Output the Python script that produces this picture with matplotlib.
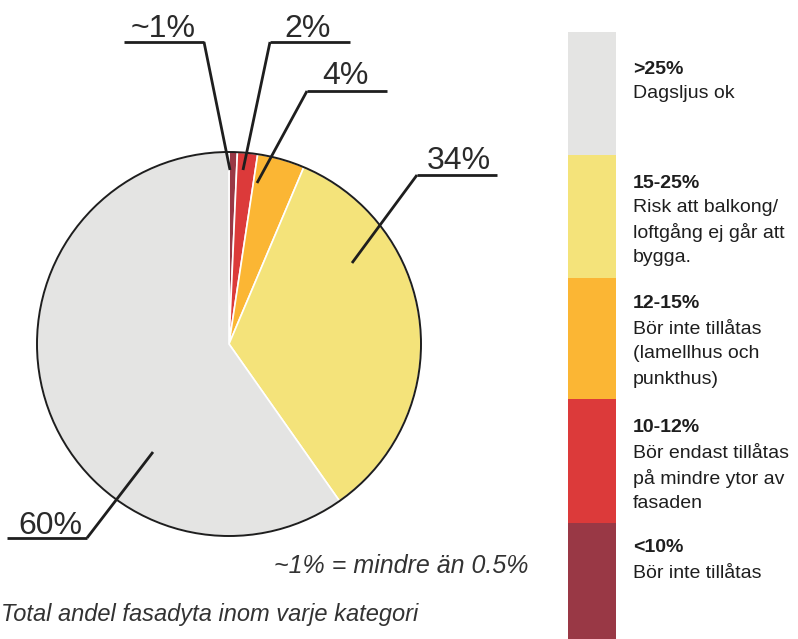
import matplotlib
matplotlib.use("Agg")
import matplotlib.pyplot as plt
from matplotlib.patches import Circle, Rectangle

plt.rcParams['font.family'] = ['Liberation Sans', 'DejaVu Sans']

W, H = 798, 639

# pie data, clockwise from 12 o'clock
shares = [0.7, 1.7, 4, 34, 60]
share_labels = ['~1%', '2%', '4%', '34%', '60%']
colors = ['#993845', '#dc3a3a', '#fbb634', '#f4e37a', '#e4e4e3']

# legend categories, top to bottom
leg_colors = ['#e4e4e3', '#f4e37a', '#fbb634', '#dc3a3a', '#993845']
leg_heads = ['>25%', '15-25%', '12-15%', '10-12%', '<10%']
leg_texts = [
    ['Dagsljus ok'],
    ['Risk att balkong/', 'loftgång ej går att', 'bygga.'],
    ['Bör inte tillåtas', '(lamellhus och', 'punkthus)'],
    ['Bör endast tillåtas', 'på mindre ytor av', 'fasaden'],
    ['Bör inte tillåtas'],
]

note = '~1% = mindre än 0.5%'
caption = 'Total andel fasadyta inom varje kategori'

fig = plt.figure(figsize=(W / 100, H / 100), dpi=100)
ax = fig.add_axes([0, 0, 1, 1])

def Y(y):
    # pixel row -> data y
    return H - y

cx, cy, r = 229, 344, 192
ax.pie(shares, colors=colors, startangle=90, counterclock=False,
       center=(cx, Y(cy)), radius=r,
       wedgeprops=dict(edgecolor='white', linewidth=1.2))
ax.add_patch(Circle((cx, Y(cy)), r, fill=False, ec='#1e1e1e', lw=1.4, zorder=5))

# label callouts: (underline x0, x1, y), leader start, leader end, text x, baseline
callouts = [
    ((124, 204, 42), (204, 42), (230, 170), 163, 37),
    ((270, 350, 42), (270, 42), (243, 170), 308, 37),
    ((307, 387, 91), (307, 91), (257, 183), 345, 84),
    ((417, 497, 175), (417, 175), (352, 263), 459, 169),
    ((7, 87, 538), (87, 538), (153, 452), 50, 534),
]
for lab, (ul, p0, p1, tx, ty) in zip(share_labels, callouts):
    ax.plot([ul[0], ul[1]], [Y(ul[2]), Y(ul[2])], color='#1e1e1e', lw=2,
            solid_capstyle='butt', zorder=6)
    ax.plot([p0[0], p1[0]], [Y(p0[1]), Y(p1[1])], color='#1e1e1e', lw=2,
            solid_capstyle='butt', zorder=6)
    ax.text(tx, Y(ty), lab, ha='center', va='baseline', fontsize=23,
            color='#2a2a2a')

# legend bar
bounds = [32, 155, 278, 399, 523, 639]
for i, c in enumerate(leg_colors):
    ax.add_patch(Rectangle((568, Y(bounds[i + 1])), 48, bounds[i + 1] - bounds[i],
                           fc=c, ec='none'))

head_y = [69, 183, 304, 428, 548]
for hy, head, lines in zip(head_y, leg_heads, leg_texts):
    ax.text(633, Y(hy), head, ha='left', va='center', fontsize=14,
            fontweight='bold', color='#1e1e1e')
    for k, ln in enumerate(lines):
        ax.text(633, Y(hy + 25 * (k + 1)), ln, ha='left', va='center',
                fontsize=14, color='#1e1e1e')

ax.text(528, Y(566), note, ha='right', va='center', fontsize=18,
        style='italic', color='#333333')
ax.text(1, Y(615), caption, ha='left', va='center', fontsize=17,
        style='italic', color='#333333')

ax.set_xlim(0, W)
ax.set_ylim(0, H)
ax.set_aspect('equal')
ax.axis('off')
fig.savefig('out.png', dpi=100)
